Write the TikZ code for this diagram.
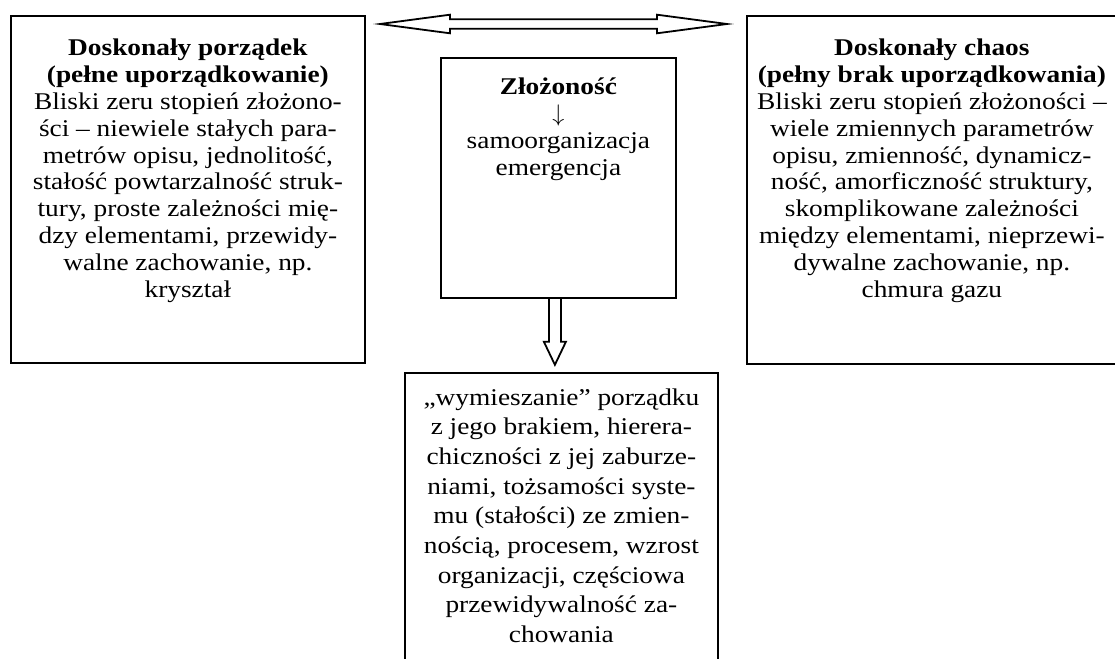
\documentclass[tikz,border=0pt]{standalone}
\usepackage{fontspec}
\setmainfont{Liberation Serif}[FakeStretch=1.14]

\begin{document}
\begin{tikzpicture}[x=0.5pt,y=-0.5pt,
	box_node/.style={draw,line width=0.9pt,inner sep=0pt,anchor=north west},
	text_node/.style={align=center,anchor=north,inner sep=0pt,font=\fontsize{12}{13.45}\selectfont},
	block_arrow/.style={draw,line width=0.9pt,line join=miter}]
	\useasboundingbox (0,0) rectangle (1115,659);
	\node[box_node,minimum width=177pt,minimum height=173.5pt] (porzadek) at (10,15) {};
	\node[box_node,minimum width=185pt,minimum height=174pt] (chaos) at (746,15) {};
	\node[box_node,minimum width=117.5pt,minimum height=120pt] (zlozonosc) at (440,57) {};
	\node[box_node,minimum width=156.5pt,minimum height=150pt] (wymieszanie) at (404,372) {};
	\node[text_node] (porzadek_txt) at ([yshift=-11.7pt]porzadek.north) {\textbf{Doskonały porządek}\\\textbf{(pełne uporządkowanie)}\\Bliski zeru stopień złożono-\\ści – niewiele stałych para-\\metrów opisu, jednolitość,\\stałość powtarzalność struk-\\tury, proste zależności mię-\\dzy elementami, przewidy-\\walne zachowanie, np.\\kryształ};
	\node[text_node] (chaos_txt) at ([yshift=-11.7pt]chaos.north) {\textbf{Doskonały chaos}\\\textbf{(pełny brak uporządkowania)}\\Bliski zeru stopień złożoności –\\wiele zmiennych parametrów\\opisu, zmienność, dynamicz-\\ność, amorficzność struktury,\\skomplikowane zależności\\między elementami, nieprzewi-\\dywalne zachowanie, np.\\chmura gazu};
	\node[text_node] (zlozonosc_txt) at ([yshift=-10.3pt]zlozonosc.north) {\textbf{Złożoność}\\$\downarrow$\\samoorganizacja\\emergencja};
	\node[text_node,font=\fontsize{12}{14.85}\selectfont] (wymieszanie_txt) at ([yshift=-8pt]wymieszanie.north) {„wymieszanie” porządku\\z jego brakiem, hierera-\\chiczności z jej zaburze-\\niami, tożsamości syste-\\mu (stałości) ze zmien-\\nością, procesem, wzrost\\organizacji, częściowa\\przewidywalność za-\\chowania};
	% arrows
	\coordinate (dbl_l) at (380,24);
	\coordinate (dbl_r) at (727,24);
	\draw[block_arrow] (dbl_l) -- ++(70,-9.3) -- ++(0,4.6) -- ++(207,0) -- ++(0,-4.6) -- (dbl_r) -- ++(-70,9.3) -- ++(0,-4.6) -- ++(-207,0) -- ++(0,4.6) -- cycle;
	\coordinate (down_top) at ([xshift=-1.75pt]zlozonosc.south);
	\draw[block_arrow] (down_top) ++(-6,0) -- ++(0,43) -- ++(-5,0) -- ++(11,23) -- ++(11,-23) -- ++(-5,0) -- ++(0,-43);
\end{tikzpicture}
\end{document}
